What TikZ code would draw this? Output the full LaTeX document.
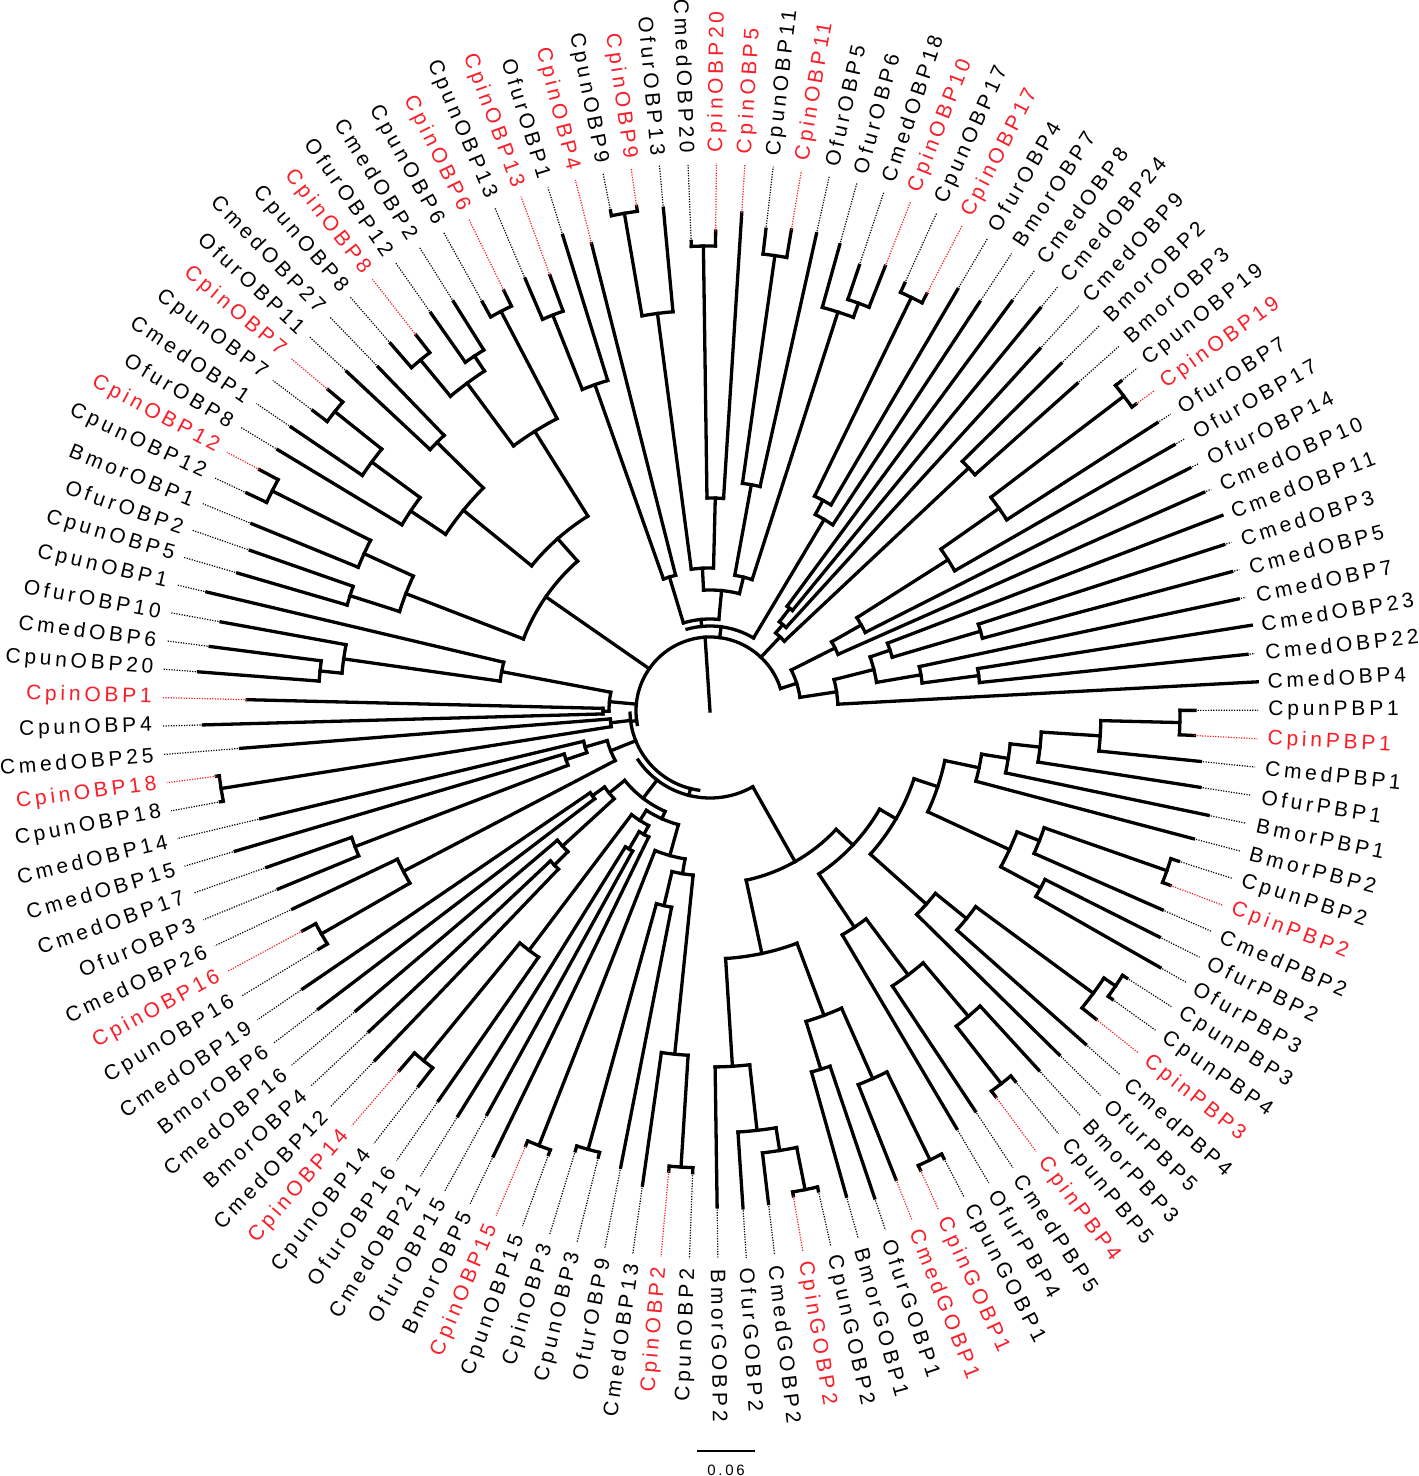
\documentclass[tikz,border=0pt]{standalone}
\usepackage{fontspec}
\newfontfamily\labfont[LetterSpace=18]{Liberation Sans}
\definecolor{labred}{RGB}{250,30,40}
\tikzset{
  br/.style={line width=1.65pt, line cap=rect, line join=miter},
  dt/.style={line width=0.6pt, dash pattern=on 0.6pt off 0.7pt},
  lab/.style={font={\labfont\fontsize{10.5}{12}\selectfont}, inner sep=0pt},
}
\newcommand\tleaf[5]{%
  \pgfmathsetmacro\lth{92.3-(#1-1)*2.975}%
  \pgfmathsetmacro\ltn{mod(\lth+720,360)}%
  \pgfmathtruncatemacro\lside{(\ltn<90 || \ltn>270) ? 1 : 0}%
  \draw[br] (\lth:#2) -- (\lth:#3);%
  \draw[dt,draw=#5] (\lth:#3) -- (\lth:548);%
  \ifnum\lside=1
    \node[lab,text=#5,rotate=\ltn,anchor=west] (L#1) at (\lth:558) {#4};%
  \else
    \pgfmathsetmacro\ltr{\ltn-180}%
    \node[lab,text=#5,rotate=\ltr,anchor=east] (L#1) at (\lth:558) {#4};%
  \fi
}
\newcommand\tnode[4]{%
  \pgfmathsetmacro\nta{92.3-(#1-1)*2.975}%
  \pgfmathsetmacro\ntb{92.3-(#2-1)*2.975}%
  \pgfmathsetmacro\ntm{(\nta+\ntb)/2}%
  \draw[br] (\nta:#3) arc[start angle=\nta, end angle=\ntb, radius=#3];%
  \draw[br] (\ntm:#4) -- (\ntm:#3);%
}
\newcommand\rarc[3]{%
  \pgfmathsetmacro\nta{92.3-(#1-1)*2.975}%
  \pgfmathsetmacro\ntb{92.3-(#2-1)*2.975}%
  \draw[br] (\nta:#3) arc[start angle=\nta, end angle=\ntb, radius=#3];%
}
\newcommand\rstem[3]{%
  \pgfmathsetmacro\nta{92.3-(#1-1)*2.975}%
  \draw[br] (\nta:#2) -- (\nta:#3);%
}
\begin{document}
\begin{tikzpicture}[x=0.5pt,y=0.5pt]
\useasboundingbox (-710,-765) rectangle (708,711);
\fill[white] (-710,-765) rectangle (708,711);
% ---------- root and backbone arcs
\coordinate (root) at (0,0);
\draw[br] (root) -- (93.8:74);
\rarc{-32}{26.078125}{74}
\rarc{-3.5}{12.125}{85}\rstem{4.3}{74}{85}
\rarc{-56}{-29}{80}\rstem{-31}{74}{80}
\rarc{-68.623046875}{-40}{87}\rstem{-54}{80}{87}
% ---------- top
\tnode{1}{2}{465}{213}
\tnode{1.5}{3}{213}{143}
\tnode{4}{5}{460}{230}
\tnode{4.5}{6}{230}{138}
\tnode{8}{9}{434}{419}
\tnode{7}{8.5}{419}{138}
\tnode{5.25}{7.75}{138}{121}
\tnode{119}{120}{505}{401}
\tnode{119.5}{121}{401}{143}
\tnode{-0.75}{2.25}{143}{121}
\tnode{0.75}{6.5}{121}{92}
\tnode{115}{116}{426}{346}
\tnode{115.5}{117}{346}{140}
\tnode{116.25}{118}{140}{92}
\tnode{-3.875}{3.625}{92}{85}
% ---------- top right
\tnode{10}{11}{460}{239}
\tnode{10.5}{12}{239}{223}
\tnode{11.25}{13}{223}{85}
\tnode{14}{15}{130}{113}
\tnode{14.5}{16}{113}{102}
\tnode{17}{18}{355}{102}
\tnode{15.25}{17.5}{102}{74}
% ---------- right
\tnode{19}{20}{520}{353}
\tnode{19.5}{21}{353}{282}
\tnode{20.25}{22}{282}{174}
\tnode{21.125}{23}{174}{140}
\tnode{22.0625}{24}{140}{91}
\tnode{26}{27}{282}{190}
\tnode{25}{26.5}{190}{169}
\tnode{29}{30}{271}{214}
\tnode{28}{29.5}{214}{169}
\tnode{25.75}{28.75}{169}{128}
\tnode{27.25}{31}{128}{91}
\tnode{23.03125}{29.125}{91}{74}
% ---------- PBP
\tnode{32}{33}{470}{391}
\tnode{32.5}{34}{391}{332}
\tnode{33.25}{35}{332}{302}
\tnode{34.125}{36}{302}{275}
\tnode{35.0625}{37}{275}{240}
\tnode{38}{39}{484}{354}
\tnode{38.5}{40}{354}{330}
\tnode{41}{42}{375}{330}
\tnode{39.25}{41.5}{330}{240}
\tnode{36.03125}{40.375}{240}{215}
\tnode{43}{44}{490}{476}
\tnode{43.5}{45}{476}{330}
\tnode{44.25}{46}{330}{290}
\tnode{45.125}{47}{290}{215}
\tnode{38.203125}{46.0625}{215}{196}
\tnode{49}{50}{473}{400}
\tnode{48}{49.5}{400}{330}
\tnode{48.75}{51}{330}{260}
\tnode{49.875}{52}{260}{196}
\tnode{42.1328125}{50.9375}{196}{173}
% ---------- GOBP
\tnode{53}{54}{500}{402}
\tnode{53.5}{55}{402}{325}
\tnode{56}{57}{375}{325}
\tnode{54.25}{56.5}{325}{248}
\tnode{58}{59}{488}{445}
\tnode{58.5}{60}{445}{422}
\tnode{59.25}{61}{422}{356}
\tnode{60.125}{62}{356}{248}
\tnode{55.375}{61.0625}{248}{173}
\tnode{46.53515625}{58.21875}{173}{87}
% ---------- bottom left
\tnode{63}{64}{457}{345}
\tnode{63.5}{65}{345}{165}
\tnode{67}{68}{455}{200}
\tnode{66}{67.5}{200}{165}
\tnode{64.25}{66.75}{165}{150}
\tnode{69}{70}{467}{150}
\tnode{65.5}{69.5}{150}{118}
\tnode{72}{73}{160}{140}
\tnode{71}{72.5}{140}{130}
\tnode{75}{76}{452}{300}
\tnode{74}{75.5}{300}{130}
\tnode{71.75}{74.75}{130}{118}
\tnode{67.5}{73.25}{118}{110}
\tnode{77}{78}{219}{200}
\tnode{77.5}{79}{200}{130}
\tnode{80}{81}{145}{130}
\tnode{78.25}{80.5}{130}{110}
\tnode{70.375}{79.375}{110}{87}
\tnode{82}{83}{448}{346}
\tnode{82.5}{84}{346}{107}
\tnode{85}{86}{380}{152}
\tnode{85.5}{87}{152}{130}
\tnode{86.25}{88}{130}{107}
\tnode{83.25}{87.125}{107}{80}
\tnode{89}{90}{495}{100}
\tnode{89.5}{91}{100}{80}
% ---------- left
\tnode{92}{93}{107}{101}
\tnode{94}{95}{392}{370}
\tnode{94.5}{96}{370}{212}
\tnode{95.25}{97}{212}{101}
\tnode{92.5}{96.125}{101}{74}
\tnode{101}{102}{490}{380}
\tnode{100}{101.5}{380}{326}
\tnode{98}{99}{378}{326}
\tnode{98.5}{100.75}{326}{200}
% ---------- upper left
\tnode{105}{106}{480}{420}
\tnode{104}{105.5}{420}{360}
\tnode{103}{104.75}{360}{318}
\tnode{107}{108}{383}{318}
\tnode{103.875}{107.5}{318}{230}
\tnode{109}{110}{455}{408}
\tnode{111}{112}{426}{408}
\tnode{109.5}{111.5}{408}{330}
\tnode{113}{114}{451}{330}
\tnode{110.5}{113.5}{330}{230}
\tnode{105.6875}{112}{230}{200}
\tnode{99.625}{108.84375}{200}{74}
% ---------- leaves
\tleaf{1}{465}{470}{CmedOBP20}{black}
\tleaf{2}{465}{480}{CpinOBP20}{labred}
\tleaf{3}{213}{499}{CpinOBP5}{labred}
\tleaf{4}{460}{485}{CpunOBP11}{black}
\tleaf{5}{460}{488}{CpinOBP11}{labred}
\tleaf{6}{230}{489}{OfurOBP5}{black}
\tleaf{7}{419}{484}{OfurOBP6}{black}
\tleaf{8}{434}{470}{CmedOBP18}{black}
\tleaf{9}{434}{478}{CpinOBP10}{labred}
\tleaf{10}{460}{470}{CpunOBP17}{black}
\tleaf{11}{460}{470}{CpinOBP17}{labred}
\tleaf{12}{239}{489}{OfurOBP4}{black}
\tleaf{13}{223}{490}{BmorOBP7}{black}
\tleaf{14}{130}{509}{CmedOBP8}{black}
\tleaf{15}{130}{521}{CmedOBP24}{black}
\tleaf{16}{113}{490}{CmedOBP9}{black}
\tleaf{17}{355}{494}{BmorOBP2}{black}
\tleaf{18}{355}{492}{BmorOBP3}{black}
\tleaf{19}{520}{527}{CpunOBP19}{black}
\tleaf{20}{520}{525}{CpinOBP19}{labred}
\tleaf{21}{353}{532}{OfurOBP7}{black}
\tleaf{22}{282}{535}{OfurOBP17}{black}
\tleaf{23}{174}{538}{OfurOBP14}{black}
\tleaf{24}{140}{540}{CmedOBP10}{black}
\tleaf{25}{190}{548}{CmedOBP11}{black}
\tleaf{26}{282}{540}{CmedOBP3}{black}
\tleaf{27}{282}{540}{CmedOBP5}{black}
\tleaf{28}{214}{540}{CmedOBP7}{black}
\tleaf{29}{271}{548}{CmedOBP23}{black}
\tleaf{30}{271}{540}{CmedOBP22}{black}
\tleaf{31}{128}{548}{CmedOBP4}{black}
\tleaf{32}{470}{485}{CpunPBP1}{black}
\tleaf{33}{470}{485}{CpinPBP1}{labred}
\tleaf{34}{391}{493}{CmedPBP1}{black}
\tleaf{35}{332}{496}{OfurPBP1}{black}
\tleaf{36}{302}{509}{BmorPBP1}{black}
\tleaf{37}{275}{500}{BmorPBP2}{black}
\tleaf{38}{484}{492}{CpunPBP2}{black}
\tleaf{39}{484}{492}{CpinPBP2}{labred}
\tleaf{40}{354}{494}{CmedPBP2}{black}
\tleaf{41}{375}{503}{OfurPBP2}{black}
\tleaf{42}{375}{518}{OfurPBP3}{black}
\tleaf{43}{490}{495}{CpunPBP3}{black}
\tleaf{44}{490}{495}{CpunPBP4}{black}
\tleaf{45}{476}{494}{CpinPBP3}{labred}
\tleaf{46}{330}{502}{CmedPBP4}{black}
\tleaf{47}{290}{490}{OfurPBP5}{black}
\tleaf{48}{400}{487}{BmorPBP3}{black}
\tleaf{49}{473}{480}{CpunPBP5}{black}
\tleaf{50}{473}{480}{CpinPBP4}{labred}
\tleaf{51}{330}{480}{CmedPBP5}{black}
\tleaf{52}{260}{485}{OfurPBP4}{black}
\tleaf{53}{500}{505}{CpunGOBP1}{black}
\tleaf{54}{500}{505}{CpinGOBP1}{labred}
\tleaf{55}{402}{504}{CmedGOBP1}{labred}
\tleaf{56}{375}{514}{OfurGOBP1}{black}
\tleaf{57}{375}{504}{BmorGOBP1}{black}
\tleaf{58}{488}{492}{CpunGOBP2}{black}
\tleaf{59}{488}{492}{CpinGOBP2}{labred}
\tleaf{60}{445}{496}{CmedGOBP2}{black}
\tleaf{61}{422}{498}{OfurGOBP2}{black}
\tleaf{62}{356}{496}{BmorGOBP2}{black}
\tleaf{63}{457}{462}{CpunOBP2}{black}
\tleaf{64}{457}{462}{CpinOBP2}{labred}
\tleaf{65}{345}{479}{CmedOBP13}{black}
\tleaf{66}{200}{465}{OfurOBP9}{black}
\tleaf{67}{455}{460}{CpunOBP3}{black}
\tleaf{68}{455}{460}{CpinOBP3}{black}
\tleaf{69}{467}{472}{CpunOBP15}{black}
\tleaf{70}{467}{472}{CpinOBP15}{labred}
\tleaf{71}{140}{495}{BmorOBP5}{black}
\tleaf{72}{160}{461}{OfurOBP15}{black}
\tleaf{73}{160}{477}{CmedOBP21}{black}
\tleaf{74}{300}{475}{OfurOBP16}{black}
\tleaf{75}{452}{475}{CpunOBP14}{black}
\tleaf{76}{452}{475}{CpinOBP14}{labred}
\tleaf{77}{219}{484}{CmedOBP12}{black}
\tleaf{78}{219}{468}{BmorOBP4}{black}
\tleaf{79}{200}{464}{CmedOBP16}{black}
\tleaf{80}{145}{492}{BmorOBP6}{black}
\tleaf{81}{145}{493}{CmedOBP19}{black}
\tleaf{82}{448}{458}{CpunOBP16}{black}
\tleaf{83}{448}{463}{CpinOBP16}{labred}
\tleaf{84}{346}{462}{CmedOBP26}{black}
\tleaf{85}{380}{467}{OfurOBP3}{black}
\tleaf{86}{380}{470}{CmedOBP17}{black}
\tleaf{87}{152}{495}{CmedOBP15}{black}
\tleaf{88}{130}{462}{CmedOBP14}{black}
\tleaf{89}{495}{498}{CpunOBP18}{black}
\tleaf{90}{495}{498}{CpinOBP18}{labred}
\tleaf{91}{100}{471}{CmedOBP25}{black}
\tleaf{92}{107}{507}{CpunOBP4}{black}
\tleaf{93}{107}{463}{CpinOBP1}{labred}
\tleaf{94}{392}{513}{CpunOBP20}{black}
\tleaf{95}{392}{504}{CmedOBP6}{black}
\tleaf{96}{370}{497}{OfurOBP10}{black}
\tleaf{97}{212}{517}{CpunOBP1}{black}
\tleaf{98}{378}{492}{CpunOBP5}{black}
\tleaf{99}{378}{487}{OfurOBP2}{black}
\tleaf{100}{380}{495}{BmorOBP1}{black}
\tleaf{101}{490}{512}{CpunOBP12}{black}
\tleaf{102}{490}{511}{CpinOBP12}{labred}
\tleaf{103}{360}{505}{OfurOBP8}{black}
\tleaf{104}{420}{506}{CmedOBP1}{black}
\tleaf{105}{480}{498}{CpunOBP7}{black}
\tleaf{106}{480}{499}{CpinOBP7}{labred}
\tleaf{107}{383}{497}{OfurOBP11}{black}
\tleaf{108}{383}{478}{CmedOBP27}{black}
\tleaf{109}{455}{487}{CpunOBP8}{black}
\tleaf{110}{455}{477}{CpinOBP8}{labred}
\tleaf{111}{426}{486}{OfurOBP12}{black}
\tleaf{112}{426}{483}{CmedOBP2}{black}
\tleaf{113}{451}{468}{CpunOBP6}{black}
\tleaf{114}{451}{468}{CpinOBP6}{labred}
\tleaf{115}{426}{470}{CpunOBP13}{black}
\tleaf{116}{426}{464}{CpinOBP13}{labred}
\tleaf{117}{346}{498}{OfurOBP1}{black}
\tleaf{118}{140}{482}{CpinOBP4}{labred}
\tleaf{119}{505}{510}{CpunOBP9}{black}
\tleaf{120}{505}{510}{CpinOBP9}{labred}
\tleaf{121}{401}{505}{OfurOBP13}{black}
% ---------- scale bar
\coordinate (sbA) at (-13,-740);
\coordinate (sbB) at (45,-740);
\draw[line width=0.8pt] (sbA) -- (sbB);
\node[font={\labfont\fontsize{7.5}{9}\selectfont}, inner sep=0pt] (sbl) at (16,-759) {0.06};
\end{tikzpicture}
\end{document}
